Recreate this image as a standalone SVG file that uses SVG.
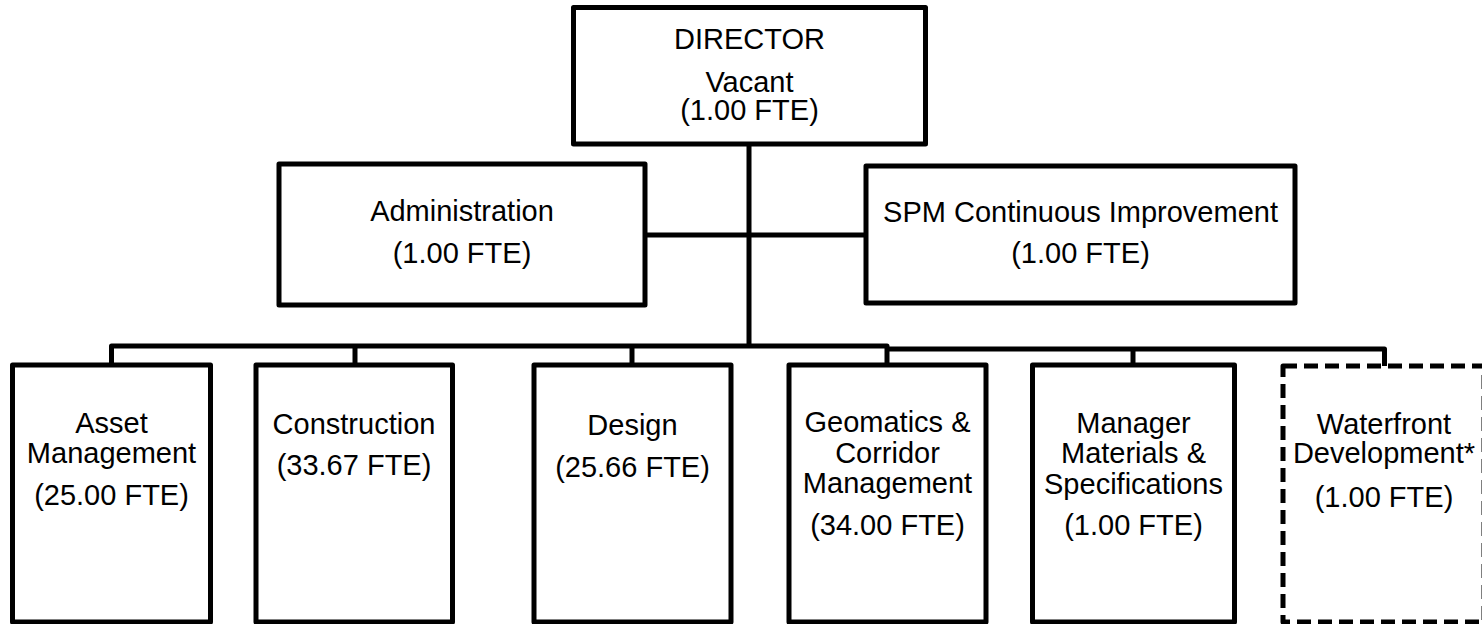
<svg xmlns="http://www.w3.org/2000/svg" width="1482" height="624" viewBox="0 0 1482 624">
<style>
.box{fill:#fff;stroke:#000;stroke-width:5;stroke-linejoin:round}
.dash{fill:#fff;stroke:#000;stroke-width:5;stroke-dasharray:14 7;stroke-linejoin:round}
.ln{fill:none;stroke:#000;stroke-width:5;stroke-linejoin:round}
text{font-family:"Liberation Sans",Arial,sans-serif;font-size:29px;fill:#000;text-anchor:middle}
</style>
<rect width="1482" height="624" fill="#fff"/>
<g id="connectors">
<path class="ln" d="M749,144 V348"/>
<path class="ln" d="M645,235 H866"/>
<path class="ln" d="M111.5,365 V346 H887 V365"/>
<path class="ln" d="M887,349 H1384.5 V366"/>
<path class="ln" d="M355,346 V365"/>
<path class="ln" d="M632,346 V365"/>
<path class="ln" d="M1133,349 V365"/>
</g>
<g id="director">
<rect class="box" x="573.5" y="7.5" width="352" height="136.5"/>
<text x="749.5" y="49">DIRECTOR</text>
<text x="749.5" y="92">Vacant</text>
<text x="749.5" y="120">(1.00 FTE)</text>
</g>
<g id="administration">
<rect class="box" x="279" y="164" width="366" height="141"/>
<text x="462" y="221">Administration</text>
<text x="462" y="263">(1.00 FTE)</text>
</g>
<g id="spm">
<rect class="box" x="866" y="166" width="429" height="137"/>
<text x="1080.5" y="222">SPM Continuous Improvement</text>
<text x="1080.5" y="263">(1.00 FTE)</text>
</g>
<g id="asset">
<rect class="box" x="12.5" y="365" width="198" height="257"/>
<text x="111.5" y="433">Asset</text>
<text x="111.5" y="463">Management</text>
<text x="111.5" y="505">(25.00 FTE)</text>
</g>
<g id="construction">
<rect class="box" x="256" y="365" width="196.5" height="257"/>
<text x="354" y="434">Construction</text>
<text x="354" y="475">(33.67 FTE)</text>
</g>
<g id="design">
<rect class="box" x="534" y="365" width="197" height="257"/>
<text x="632.5" y="435">Design</text>
<text x="632.5" y="477">(25.66 FTE)</text>
</g>
<g id="geomatics">
<rect class="box" x="789" y="365" width="197" height="257"/>
<text x="887.5" y="432">Geomatics &amp;</text>
<text x="887.5" y="463">Corridor</text>
<text x="887.5" y="493">Management</text>
<text x="887.5" y="535">(34.00 FTE)</text>
</g>
<g id="materials">
<rect class="box" x="1032.5" y="365" width="202" height="257"/>
<text x="1133.5" y="433">Manager</text>
<text x="1133.5" y="463">Materials &amp;</text>
<text x="1133.5" y="494">Specifications</text>
<text x="1133.5" y="535">(1.00 FTE)</text>
</g>
<g id="waterfront">
<rect class="dash" x="1283" y="366" width="201" height="256"/>
<text x="1384" y="434">Waterfront</text>
<text x="1384" y="463">Development*</text>
<text x="1384" y="507">(1.00 FTE)</text>
</g>
</svg>
